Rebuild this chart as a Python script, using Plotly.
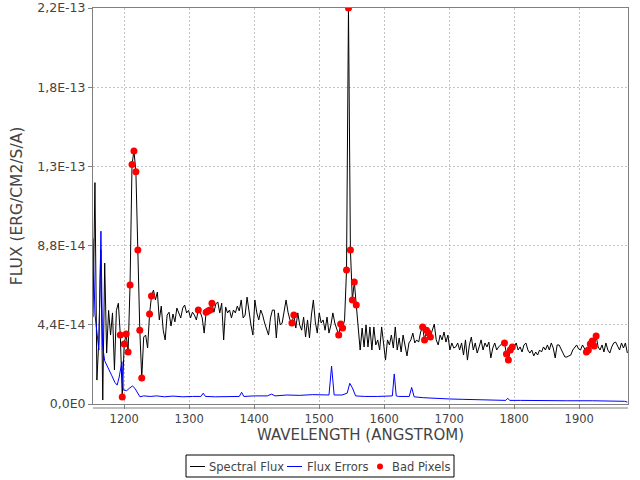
import numpy as np
import plotly.graph_objects as go

# ---------------- data ----------------
SCALE = 1e-14            # flux values below are in units of 1e-14 erg/cm2/s/A
WL_START = 1152.0        # wavelength of first sample (Angstrom)
WL_STEP = 3.0            # sampling step (Angstrom)

FLUX = [
    4.83, 12.3, 1.33, 3.56, 8.56, 0.22, 7.83, 2.83, 5.2, 3.83,
    5.06, 1.89, 5.2, 5.6, 3.83, 0.39, 3.33, 3.89, 2.89, 6.61,
    13.3, 14.06, 12.9, 8.56, 4.1, 1.44, 3.72, 3.83, 3.11, 5.0,
    6.0, 6.33, 5.78, 6.22, 4.67, 5.44, 4.1, 3.56, 4.94, 5.1,
    4.33, 5.0, 4.56, 5.33, 5.1, 4.78, 5.33, 5.5, 5.06, 5.2,
    4.78, 5.1, 4.94, 4.67, 5.22, 5.1, 4.78, 3.94, 5.1, 5.17,
    5.22, 5.6, 5.1, 5.56, 5.67, 5.06, 5.6, 3.56, 5.39, 5.06,
    5.22, 4.78, 5.22, 5.06, 5.44, 5.17, 5.78, 4.78, 4.94, 5.94,
    5.1, 4.39, 3.83, 5.78, 5.06, 4.67, 5.22, 4.94, 4.5, 4.1,
    3.83, 4.78, 5.22, 5.22, 3.67, 5.06, 4.39, 4.5, 5.1, 5.78,
    5.1, 4.67, 4.5, 4.94, 4.22, 5.06, 4.39, 4.1, 4.83, 3.72,
    4.67, 3.67, 4.94, 5.78, 4.56, 3.94, 5.06, 4.5, 4.67, 4.1,
    4.83, 3.94, 4.39, 5.06, 4.5, 4.1, 3.83, 4.44, 4.22, 4.67,
    7.44, 22.0, 8.56, 5.78, 6.78, 5.5, 4.1, 3.0, 4.22, 3.17,
    4.39, 3.17, 4.28, 3.0, 4.28, 3.28, 3.56, 3.0, 4.28, 3.28,
    2.44, 3.56, 3.28, 3.83, 3.11, 4.28, 3.0, 3.67, 2.89, 3.83,
    3.17, 2.67, 3.39, 3.56, 3.94, 3.39, 3.56, 3.44, 4.0, 4.28,
    3.56, 4.1, 3.94, 3.72, 4.1, 4.44, 3.56, 3.28, 3.83, 3.56,
    4.0, 3.44, 3.83, 3.0, 3.39, 3.11, 3.17, 3.39, 3.0, 3.39,
    2.72, 3.56, 2.44, 3.28, 3.72, 3.0, 3.39, 2.83, 3.17, 3.56,
    3.0, 3.39, 3.17, 3.44, 2.56, 3.11, 3.39, 3.0, 3.17, 3.28,
    3.39, 3.39, 2.78, 2.44, 3.0, 3.17, 3.17, 3.39, 3.0, 3.17,
    2.89, 3.28, 3.39, 3.0, 2.83, 3.0, 2.67, 2.89, 2.72, 3.0,
    2.89, 3.17, 3.0, 3.28, 3.0, 3.39, 3.11, 2.56, 3.28, 3.28,
    3.0, 2.83, 2.61, 2.61, 2.67, 2.72, 3.0, 3.17, 3.28, 3.06,
    3.0, 3.28, 3.11, 2.89, 3.0, 3.33, 3.5, 3.22, 3.78, 3.17,
    3.0, 3.28, 2.89, 3.39, 3.0, 2.83, 3.17, 3.39, 3.44, 3.17,
    3.0, 3.39, 3.11, 3.39, 2.83,
]

BAD_INDEX = [14, 15, 16, 17, 18, 19, 20, 21, 22, 23, 24, 25, 29, 30,
             54, 58, 59, 60, 61, 102, 103, 126, 127, 128,
             130, 131, 132, 133, 134, 135,
             169, 170, 171, 172, 173, 211, 212, 213, 214, 215,
             253, 254, 255, 256, 257, 258]

ERR_WL = [1152, 1153.4, 1155, 1158, 1161, 1164.2, 1166.8, 1170, 1175, 1180.6,
          1185.7, 1189.2, 1192.3, 1196.5, 1198.5, 1203.7, 1208.8, 1212.9, 1216.5, 1220.3,
          1224.2, 1230, 1240, 1250, 1262, 1275, 1290, 1305, 1318, 1321.5,
          1325, 1340, 1360, 1377, 1380.6, 1384, 1400, 1420, 1426.8, 1432,
          1450, 1470, 1490, 1505, 1515, 1519, 1523, 1535, 1543, 1547,
          1551, 1556, 1570, 1590, 1610, 1612.5, 1615.4, 1618.5, 1622, 1638.5,
          1642.2, 1646, 1660, 1680, 1700, 1720, 1750, 1780, 1787, 1790,
          1793, 1810, 1840, 1880, 1920, 1950, 1970, 1974]
ERR_FLUX = [9.2, 6.5, 5.0, 4.0, 3.0, 9.6, 3.2, 2.4, 2.05, 1.6,
            1.2, 1.05, 1.5, 2.35, 0.78, 0.74, 0.9, 1.0, 0.87, 0.6,
            0.4, 0.45, 0.42, 0.45, 0.4, 0.44, 0.4, 0.42, 0.42, 0.6,
            0.42, 0.4, 0.42, 0.42, 0.65, 0.42, 0.45, 0.45, 0.55, 0.45,
            0.5, 0.48, 0.52, 0.5, 0.5, 2.1, 0.5, 0.5, 0.6, 1.15,
            0.9, 0.45, 0.42, 0.42, 0.42, 0.45, 1.67, 0.45, 0.42, 0.42,
            0.92, 0.4, 0.35, 0.3, 0.28, 0.26, 0.22, 0.2, 0.2, 0.32,
            0.2, 0.2, 0.18, 0.18, 0.18, 0.17, 0.15, 0.1]

SERIES_NAMES = ["Spectral Flux", "Flux Errors", "Bad Pixels"]
X_TICKS = [1200, 1300, 1400, 1500, 1600, 1700, 1800, 1900]
Y_TICK_VALS = [0, 4.4e-14, 8.8e-14, 1.32e-13, 1.76e-13, 2.2e-13]
Y_TICK_TEXT = ["0,0E0", "4,4E-14", "8,8E-14", "1,3E-13", "1,8E-13", "2,2E-13"]
X_RANGE = [1152, 1975]
Y_RANGE = [0, 2.2e-13]
X_TITLE = "WAVELENGTH (ANGSTROM)"
Y_TITLE = "FLUX (ERG/CM2/S/A)"

# ---------------- build ----------------
wl = WL_START + WL_STEP * np.arange(len(FLUX))
flux = np.array(FLUX) * SCALE
bad_wl = wl[BAD_INDEX]
bad_flux = flux[BAD_INDEX]
err_wl = np.array(ERR_WL)
err_flux = np.array(ERR_FLUX) * SCALE

FONT = "DejaVu Sans"
TXT = "#444444"
W, H = 640, 480
L, R, T, B = 93, 12, 8, 76
PW, PH = W - L - R, H - T - B


def pxx(p):
    return (p - L) / PW


def pxy(p):
    return (H - B - p) / PH


fig = go.Figure()
fig.add_trace(go.Scatter(x=wl, y=flux, mode="lines", name=SERIES_NAMES[0],
                         line=dict(color="black", width=1), showlegend=False))
fig.add_trace(go.Scatter(x=err_wl, y=err_flux, mode="lines", name=SERIES_NAMES[1],
                         line=dict(color="#0000ff", width=1), showlegend=False))
fig.add_trace(go.Scatter(x=bad_wl, y=bad_flux, mode="markers", name=SERIES_NAMES[2],
                         marker=dict(color="#ff0000", size=7), showlegend=False))

axis_common = dict(
    showline=True, linecolor="#808080", linewidth=1, mirror=True,
    showgrid=True, gridcolor="#c4c4c4", griddash="2px,2px", gridwidth=1,
    zeroline=False, ticks="outside", tickcolor="#808080", automargin=False,
)

fig.update_xaxes(range=X_RANGE, tickvals=X_TICKS, ticklen=4, **axis_common,
                 tickfont=dict(family=FONT, size=11.5, color=TXT),
                 title=dict(text=X_TITLE, font=dict(family=FONT, size=15, color=TXT), standoff=4))
fig.update_yaxes(range=Y_RANGE, tickvals=Y_TICK_VALS, ticktext=Y_TICK_TEXT, ticklen=4,
                 **axis_common,
                 tickfont=dict(family=FONT, size=12.5, color=TXT),
                 title=dict(text=Y_TITLE, font=dict(family=FONT, size=15.5, color=TXT), standoff=10))

shapes = [
    # offset axis line below the plot area
    dict(type="line", xref="paper", yref="paper", x0=0, x1=1, y0=pxy(408), y1=pxy(408),
         line=dict(color="#808080", width=1)),
    # legend box
    dict(type="rect", xref="paper", yref="paper", x0=pxx(186), x1=pxx(454),
         y0=pxy(477), y1=pxy(455), line=dict(color="black", width=1), fillcolor="white"),
    dict(type="line", xref="paper", yref="paper", x0=pxx(190), x1=pxx(205),
         y0=pxy(466.5), y1=pxy(466.5), line=dict(color="black", width=1)),
    dict(type="line", xref="paper", yref="paper", x0=pxx(287), x1=pxx(302),
         y0=pxy(466.5), y1=pxy(466.5), line=dict(color="#0000ff", width=1)),
    dict(type="circle", xref="paper", yref="paper", x0=pxx(377), x1=pxx(383),
         y0=pxy(469.5), y1=pxy(463.5), line=dict(color="#ff0000", width=0), fillcolor="#ff0000"),
]

annotations = []
for name, xpix in zip(SERIES_NAMES, [207, 305, 390]):
    annotations.append(dict(text=name, xref="paper", yref="paper", x=pxx(xpix), y=pxy(466.5),
                            xanchor="left", yanchor="middle", showarrow=False,
                            font=dict(family=FONT, size=11.5, color=TXT)))

fig.update_layout(
    width=W, height=H,
    margin=dict(l=L, r=R, t=T, b=B, pad=0, autoexpand=False),
    paper_bgcolor="white", plot_bgcolor="white",
    font=dict(family=FONT, size=12, color=TXT),
    shapes=shapes, annotations=annotations, showlegend=False,
)

fig.write_html("out.html", config={"displayModeBar": False},
               post_script="document.body.style.margin='0px';document.body.style.overflow='hidden';")
